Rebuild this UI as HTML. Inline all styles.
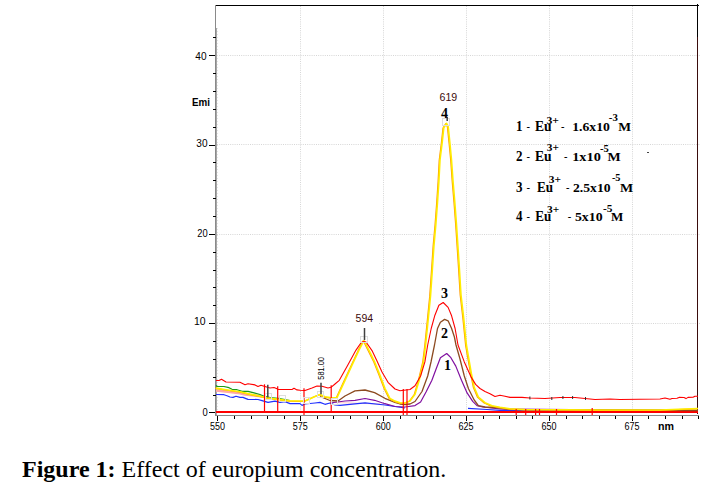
<!DOCTYPE html>
<html><head><meta charset="utf-8"><style>
html,body{margin:0;padding:0;background:#fff;}
body{width:721px;height:497px;overflow:hidden;position:relative;}
svg{position:absolute;left:0;top:0;}
.cap{position:absolute;left:22px;top:454px;font-family:"Liberation Serif",serif;font-size:24px;color:#000;white-space:nowrap;line-height:30px;}
</style></head><body>
<svg width="721" height="497" viewBox="0 0 721 497">
<line x1="217" y1="55.5" x2="700" y2="55.5" stroke="#d6d6d6" stroke-width="1" stroke-dasharray="1,1.2"/>
<line x1="217" y1="144.5" x2="441" y2="144.5" stroke="#d6d6d6" stroke-width="1" stroke-dasharray="1,1.2"/>
<line x1="452" y1="144.5" x2="700" y2="144.5" stroke="#d6d6d6" stroke-width="1" stroke-dasharray="1,1.2"/>
<line x1="217" y1="234.5" x2="433" y2="234.5" stroke="#d6d6d6" stroke-width="1" stroke-dasharray="1,1.2"/>
<line x1="462" y1="234.5" x2="700" y2="234.5" stroke="#d6d6d6" stroke-width="1" stroke-dasharray="1,1.2"/>
<line x1="217" y1="323.5" x2="348" y2="323.5" stroke="#d6d6d6" stroke-width="1" stroke-dasharray="1,1.2"/>
<line x1="379" y1="323.5" x2="426" y2="323.5" stroke="#d6d6d6" stroke-width="1" stroke-dasharray="1,1.2"/>
<line x1="466" y1="323.5" x2="700" y2="323.5" stroke="#d6d6d6" stroke-width="1" stroke-dasharray="1,1.2"/>
<line x1="300.5" y1="6" x2="300.5" y2="411" stroke="#d6d6d6" stroke-width="1" stroke-dasharray="1,1.2"/>
<line x1="383.5" y1="6" x2="383.5" y2="411" stroke="#d6d6d6" stroke-width="1" stroke-dasharray="1,1.2"/>
<line x1="466.5" y1="6" x2="466.5" y2="411" stroke="#d6d6d6" stroke-width="1" stroke-dasharray="1,1.2"/>
<line x1="549.5" y1="6" x2="549.5" y2="411" stroke="#d6d6d6" stroke-width="1" stroke-dasharray="1,1.2"/>
<line x1="632.5" y1="6" x2="632.5" y2="411" stroke="#d6d6d6" stroke-width="1" stroke-dasharray="1,1.2"/>
<rect x="215" y="5" width="484" height="1" fill="#000"/>
<rect x="697" y="4" width="1" height="33" fill="#000"/>
<rect x="697" y="37" width="1" height="377" fill="#3a0c0c"/>
<rect x="215" y="5" width="1" height="410" fill="#8a8a8a"/>
<rect x="216" y="28" width="1" height="387" fill="#a8a8a8"/>
<line x1="217.5" y1="28" x2="217.5" y2="410" stroke="#e4e4e4" stroke-width="1" stroke-dasharray="1,2"/>
<rect x="215" y="415" width="484" height="1" fill="#8a8a8a"/>
<rect x="209" y="412" width="6" height="1" fill="#000"/>
<rect x="213" y="395" width="3" height="1" fill="#000"/>
<rect x="213" y="377" width="3" height="1" fill="#000"/>
<rect x="213" y="359" width="3" height="1" fill="#000"/>
<rect x="213" y="341" width="3" height="1" fill="#000"/>
<rect x="209" y="323" width="6" height="1" fill="#000"/>
<rect x="213" y="305" width="3" height="1" fill="#000"/>
<rect x="213" y="287" width="3" height="1" fill="#000"/>
<rect x="213" y="270" width="3" height="1" fill="#000"/>
<rect x="213" y="252" width="3" height="1" fill="#000"/>
<rect x="209" y="234" width="6" height="1" fill="#000"/>
<rect x="213" y="216" width="3" height="1" fill="#000"/>
<rect x="213" y="198" width="3" height="1" fill="#000"/>
<rect x="213" y="180" width="3" height="1" fill="#000"/>
<rect x="213" y="162" width="3" height="1" fill="#000"/>
<rect x="209" y="145" width="6" height="1" fill="#000"/>
<rect x="213" y="127" width="3" height="1" fill="#000"/>
<rect x="213" y="109" width="3" height="1" fill="#000"/>
<rect x="213" y="91" width="3" height="1" fill="#000"/>
<rect x="213" y="73" width="3" height="1" fill="#000"/>
<rect x="209" y="55" width="6" height="1" fill="#000"/>
<rect x="213" y="37" width="3" height="1" fill="#000"/>
<rect x="217" y="416" width="1" height="5" fill="#000"/>
<rect x="234" y="416" width="1" height="3" fill="#000"/>
<rect x="251" y="416" width="1" height="3" fill="#000"/>
<rect x="267" y="416" width="1" height="3" fill="#000"/>
<rect x="284" y="416" width="1" height="3" fill="#000"/>
<rect x="300" y="416" width="1" height="5" fill="#000"/>
<rect x="317" y="416" width="1" height="3" fill="#000"/>
<rect x="333" y="416" width="1" height="3" fill="#000"/>
<rect x="350" y="416" width="1" height="3" fill="#000"/>
<rect x="367" y="416" width="1" height="3" fill="#000"/>
<rect x="383" y="416" width="1" height="5" fill="#000"/>
<rect x="400" y="416" width="1" height="3" fill="#000"/>
<rect x="416" y="416" width="1" height="3" fill="#000"/>
<rect x="433" y="416" width="1" height="3" fill="#000"/>
<rect x="450" y="416" width="1" height="3" fill="#000"/>
<rect x="466" y="416" width="1" height="5" fill="#000"/>
<rect x="483" y="416" width="1" height="3" fill="#000"/>
<rect x="499" y="416" width="1" height="3" fill="#000"/>
<rect x="516" y="416" width="1" height="3" fill="#000"/>
<rect x="532" y="416" width="1" height="3" fill="#000"/>
<rect x="549" y="416" width="1" height="5" fill="#000"/>
<rect x="566" y="416" width="1" height="3" fill="#000"/>
<rect x="582" y="416" width="1" height="3" fill="#000"/>
<rect x="599" y="416" width="1" height="3" fill="#000"/>
<rect x="615" y="416" width="1" height="3" fill="#000"/>
<rect x="632" y="416" width="1" height="5" fill="#000"/>
<rect x="648" y="416" width="1" height="3" fill="#000"/>
<rect x="665" y="416" width="1" height="3" fill="#000"/>
<rect x="682" y="416" width="1" height="3" fill="#000"/>
<rect x="698" y="416" width="1" height="3" fill="#000"/>
<rect x="216" y="411" width="482" height="2" fill="#ff0000"/>
<rect x="500" y="410" width="198" height="1" fill="#5028b0" opacity="0.6"/>
<polyline points="216.0,390.5 230.0,392.1 240.0,393.3 245.0,394.5 255.0,395.5 262.0,396.5" fill="none" stroke="#ffa8a8" stroke-width="2.5" stroke-linejoin="round" />
<polyline points="335.0,402.5 350.0,403.0 380.0,404.0" fill="none" stroke="#ffc8c8" stroke-width="1" stroke-linejoin="round" />
<polyline points="216.0,385.3 217.0,386.5 224.0,386.5 229.0,387.7 232.0,389.3 237.0,389.7 242.0,391.3 248.0,391.3 254.0,392.9 260.0,394.5 264.0,396.2 270.0,397.5 278.0,398.3 285.0,399.6 290.0,400.5" fill="none" stroke="#1a9a1a" stroke-width="1.2" stroke-linejoin="round" />
<polyline points="216.0,394.5 224.0,394.7 227.0,395.8 230.0,397.0 233.0,397.4 236.0,396.2 240.0,397.4 243.0,397.4 246.0,398.6 248.0,399.4 258.0,399.5 262.0,400.6 268.0,402.4 275.0,401.2 280.0,402.4 285.0,401.6 290.0,403.6 300.0,403.6 302.0,405.4 305.0,404.0 315.0,403.0 320.0,402.4 325.0,404.3 330.0,403.0 335.0,405.0 340.0,405.3 345.0,404.8 365.0,402.8 385.0,405.0 395.0,406.5 405.0,408.0" fill="none" stroke="#2030ff" stroke-width="1.2" stroke-linejoin="round" />
<polyline points="468.0,408.3 487.0,409.5 500.0,410.3 698.0,410.5" fill="none" stroke="#2030ff" stroke-width="1.2" stroke-linejoin="round" />
<polyline points="330.0,403.0 345.0,401.0 355.0,400.3 365.0,398.5 374.6,400.3 384.9,403.7 395.0,406.5 405.0,407.0 415.0,405.6 420.6,402.0 426.3,391.5 431.9,380.2 436.1,369.0 440.4,357.7 446.7,353.5 450.9,357.7 455.8,366.1 461.5,380.2 467.1,392.9 472.7,401.3 477.0,405.6 482.6,407.0 500.0,409.0 698.0,410.5" fill="none" stroke="#8010a0" stroke-width="1.2" stroke-linejoin="round" />
<polyline points="320.0,396.5 330.0,400.5 338.0,401.0 345.0,396.0 355.0,390.8 365.0,390.0 374.6,392.6 384.9,398.3 395.0,402.5 400.0,404.0 405.0,404.5 410.0,404.0 415.0,401.5 422.0,391.5 427.7,376.0 431.0,362.0 434.5,345.0 437.5,328.5 440.4,322.2 444.6,319.4 448.1,320.8 451.6,328.5 454.4,337.0 456.0,345.0 460.0,359.0 464.3,376.0 468.5,388.7 474.2,400.0 478.4,405.6 485.0,407.0 500.0,408.0 510.0,409.5 698.0,410.5" fill="none" stroke="#8c4a20" stroke-width="1.3" stroke-linejoin="round" />
<polyline points="215.2,388.4 225.2,390.0 239.2,392.0 249.2,394.4 259.2,396.5 269.2,398.6 279.2,399.9 289.2,401.1 299.2,401.3 304.2,401.3 309.2,399.1 314.2,396.8 319.2,394.8 324.2,397.1 329.2,397.9 336.2,398.0 344.2,380.6 351.2,365.5 358.2,350.4 363.2,340.8 369.2,352.7 373.8,362.1 378.9,374.9 384.1,388.6 389.2,398.8 394.2,401.4 399.2,403.1 404.2,403.3 409.2,401.3 414.2,394.6 418.4,380.5 422.7,362.2 424.8,345.3 427.6,317.6 429.7,296.4 431.7,267.6 433.1,246.4 435.0,225.3 436.7,202.6 438.1,181.4 439.2,160.3 441.3,143.5 443.0,128.0 445.8,123.6 447.4,126.9 449.1,143.5 450.7,160.3 452.2,181.4 454.0,202.6 455.7,225.3 457.1,246.4 458.5,267.6 460.2,295.3 462.8,317.6 465.6,345.3 470.5,373.5 473.4,387.6 477.6,397.4 484.2,403.0 491.2,406.1 499.2,407.6 509.2,409.1 524.2,409.8 599.2,410.3 659.2,410.3 684.2,409.3 697.2,408.8" fill="none" stroke="#ff9a00" stroke-width="1.2" stroke-linejoin="round" />
<polyline points="216.0,388.1 226.0,389.7 240.0,391.7 250.0,394.1 260.0,396.2 270.0,398.3 280.0,399.6 290.0,400.8 300.0,401.0 305.0,401.0 310.0,398.8 315.0,396.5 320.0,394.5 325.0,396.8 330.0,397.6 337.0,397.7 345.0,380.3 352.0,365.2 359.0,350.1 364.0,340.5 370.0,352.4 374.6,361.8 379.7,374.6 384.9,388.3 390.0,398.5 395.0,401.1 400.0,402.8 405.0,403.0 410.0,401.0 415.0,394.3 419.2,380.2 423.5,361.9 425.6,345.0 428.4,317.3 430.5,296.1 432.5,267.3 433.9,246.1 435.8,225.0 437.5,202.3 438.9,181.1 440.0,160.0 442.1,143.2 443.8,127.7 446.6,123.3 448.2,126.6 449.9,143.2 451.5,160.0 453.0,181.1 454.8,202.3 456.5,225.0 457.9,246.1 459.3,267.3 461.0,295.0 463.6,317.3 466.4,345.0 471.3,373.2 474.2,387.3 478.4,397.1 485.0,402.7 492.0,405.8 500.0,407.3 510.0,408.8 525.0,409.5 600.0,410.0 660.0,410.0 685.0,409.0 698.0,408.5" fill="none" stroke="#ffee00" stroke-width="1.6" stroke-linejoin="round" />
<polyline points="216.0,380.5 219.0,380.5 221.5,379.2 226.0,382.0 240.0,382.3 245.0,384.7 248.0,383.7 255.0,384.9 258.0,386.5 261.0,385.3 264.0,386.3 270.0,388.0 274.0,387.5 277.0,388.7 278.0,389.5 292.0,389.5 294.0,388.3 297.0,389.9 300.0,390.3 305.0,390.5 312.0,388.0 317.0,386.0 322.0,386.2 328.0,388.0 331.0,387.3 335.0,384.0 339.3,380.3 347.7,365.2 356.0,350.1 361.2,342.5 364.0,341.5 366.0,342.0 372.0,350.6 377.0,361.0 382.0,372.0 388.0,382.3 395.0,389.0 400.0,390.7 410.0,389.5 415.0,385.8 420.6,376.0 424.9,361.9 427.7,345.0 431.2,328.5 434.7,315.8 438.9,305.3 443.2,302.5 448.1,307.4 451.6,315.8 455.1,328.5 458.0,345.0 464.3,361.9 471.3,377.4 475.6,384.4 480.0,388.5 485.0,391.5 490.0,393.7 495.0,396.5 500.0,395.2 505.0,396.2 510.0,397.4 522.0,397.4 530.0,398.0 545.0,398.5 560.0,397.5 575.0,397.5 585.0,398.5 595.0,399.5 610.0,399.0 620.0,399.5 660.0,399.0 665.0,398.0 670.0,399.3 672.0,398.5 677.0,398.3 679.0,397.4 684.0,397.5 686.0,398.6 688.0,397.4 693.0,397.3 695.0,396.2 698.0,396.2" fill="none" stroke="#ff0000" stroke-width="1.1" stroke-linejoin="round" />
<rect x="647" y="152" width="2" height="1" fill="#444"/>
<rect x="529.4" y="396.5" width="1" height="3" fill="#303030"/>
<rect x="551.3" y="397.0" width="1" height="3" fill="#303030"/>
<rect x="562.4" y="396.0" width="1" height="3" fill="#303030"/>
<rect x="572.1" y="396.0" width="1" height="3" fill="#303030"/>
<rect x="585.0" y="397.0" width="1" height="3" fill="#303030"/>
<line x1="264.5" y1="384.3" x2="264.5" y2="412" stroke="#ff0000" stroke-width="1.2"/>
<line x1="277.7" y1="386.3" x2="277.7" y2="412" stroke="#ff0000" stroke-width="1.2"/>
<line x1="304" y1="388.3" x2="304" y2="415" stroke="#ff0000" stroke-width="1.2"/>
<line x1="331.2" y1="385.3" x2="331.2" y2="412" stroke="#ff0000" stroke-width="1.2"/>
<line x1="403.3" y1="389" x2="403.3" y2="415" stroke="#ff0000" stroke-width="1.2"/>
<line x1="407" y1="389" x2="407" y2="415" stroke="#ff0000" stroke-width="1.2"/>
<line x1="516.2" y1="409" x2="516.2" y2="415" stroke="#ff0000" stroke-width="1.2"/>
<line x1="525.7" y1="409" x2="525.7" y2="415" stroke="#ff0000" stroke-width="1.2"/>
<line x1="535.6" y1="409" x2="535.6" y2="415" stroke="#ff0000" stroke-width="1.2"/>
<line x1="539.5" y1="409" x2="539.5" y2="415" stroke="#ff0000" stroke-width="1.2"/>
<line x1="556.5" y1="409" x2="556.5" y2="415" stroke="#ff0000" stroke-width="1.2"/>
<line x1="592.2" y1="408" x2="592.2" y2="415" stroke="#ff0000" stroke-width="1.2"/>
<rect x="360.5" y="336.5" width="7" height="6" fill="none" stroke="#dedede" stroke-width="1"/>
<rect x="442.5" y="118.5" width="7" height="7" fill="none" stroke="#dedede" stroke-width="1"/>
<rect x="317.5" y="391.5" width="6" height="6" fill="none" stroke="#dedede" stroke-width="1"/>
<rect x="265.5" y="393.5" width="6" height="6" fill="none" stroke="#dedede" stroke-width="1"/>
<rect x="279.5" y="395.5" width="6" height="6" fill="none" stroke="#dedede" stroke-width="1"/>
<rect x="303.5" y="397.5" width="6" height="6" fill="none" stroke="#dedede" stroke-width="1"/>
<rect x="331.5" y="398.5" width="6" height="6" fill="none" stroke="#dedede" stroke-width="1"/>
<line x1="267.8" y1="384.7" x2="267.8" y2="397.5" stroke="#404040" stroke-width="1.5"/>
<line x1="321" y1="382.7" x2="321" y2="394.3" stroke="#404040" stroke-width="1.5"/>
<line x1="364.5" y1="328" x2="364.5" y2="340" stroke="#404040" stroke-width="1.5"/>
<line x1="447.2" y1="117" x2="447.2" y2="121" stroke="#404040" stroke-width="1.5"/>
<text x="202.5" y="415.8" font-family="Liberation Sans, sans-serif" font-size="10" fill="#000" text-anchor="start" textLength="5.2" lengthAdjust="spacingAndGlyphs" >0</text>
<text x="194.0" y="325.0" font-family="Liberation Sans, sans-serif" font-size="10" fill="#000" text-anchor="start" textLength="11.6" lengthAdjust="spacingAndGlyphs" >10</text>
<text x="197.3" y="237.0" font-family="Liberation Sans, sans-serif" font-size="10" fill="#000" text-anchor="start" textLength="10.4" lengthAdjust="spacingAndGlyphs" >20</text>
<text x="196.3" y="147.0" font-family="Liberation Sans, sans-serif" font-size="10" fill="#000" text-anchor="start" textLength="11.2" lengthAdjust="spacingAndGlyphs" >30</text>
<text x="195.3" y="59.8" font-family="Liberation Sans, sans-serif" font-size="10" fill="#000" text-anchor="start" textLength="11.2" lengthAdjust="spacingAndGlyphs" >40</text>
<text x="192" y="105.6" font-family="Liberation Sans, sans-serif" font-size="11" fill="#000" text-anchor="start" textLength="18" lengthAdjust="spacingAndGlyphs" font-weight="bold">Emi</text>
<text x="209.9" y="429.8" font-family="Liberation Sans, sans-serif" font-size="10" fill="#000" text-anchor="start" textLength="15" lengthAdjust="spacingAndGlyphs" >550</text>
<text x="292.8" y="429.8" font-family="Liberation Sans, sans-serif" font-size="10" fill="#000" text-anchor="start" textLength="15" lengthAdjust="spacingAndGlyphs" >575</text>
<text x="375.7" y="429.8" font-family="Liberation Sans, sans-serif" font-size="10" fill="#000" text-anchor="start" textLength="15" lengthAdjust="spacingAndGlyphs" >600</text>
<text x="458.6" y="429.8" font-family="Liberation Sans, sans-serif" font-size="10" fill="#000" text-anchor="start" textLength="15" lengthAdjust="spacingAndGlyphs" >625</text>
<text x="541.5" y="429.8" font-family="Liberation Sans, sans-serif" font-size="10" fill="#000" text-anchor="start" textLength="15" lengthAdjust="spacingAndGlyphs" >650</text>
<text x="624.4" y="429.8" font-family="Liberation Sans, sans-serif" font-size="10" fill="#000" text-anchor="start" textLength="15" lengthAdjust="spacingAndGlyphs" >675</text>
<text x="658" y="429.8" font-family="Liberation Sans, sans-serif" font-size="11" fill="#000" text-anchor="start" textLength="16" lengthAdjust="spacingAndGlyphs" font-weight="bold">nm</text>
<rect x="348" y="313" width="31" height="11" fill="#fff"/>
<text x="355.6" y="322" font-family="Liberation Sans, sans-serif" font-size="10" fill="#3c0a0a" text-anchor="start" textLength="17.5" lengthAdjust="spacingAndGlyphs" >594</text>
<text x="439.5" y="101" font-family="Liberation Sans, sans-serif" font-size="10" fill="#3c0a0a" text-anchor="start" textLength="17.7" lengthAdjust="spacingAndGlyphs" >619</text>
<text transform="translate(323.6,379.7) rotate(-90)" font-family="Liberation Sans, sans-serif" font-size="9" textLength="22.7" lengthAdjust="spacingAndGlyphs">581.00</text>
<text x="441" y="117.8" font-family="Liberation Serif, serif" font-size="14" fill="#000" text-anchor="start" font-weight="bold">4</text>
<text x="441" y="297.5" font-family="Liberation Serif, serif" font-size="14" fill="#000" text-anchor="start" font-weight="bold">3</text>
<text x="441" y="337.7" font-family="Liberation Serif, serif" font-size="14" fill="#000" text-anchor="start" font-weight="bold">2</text>
<text x="443.9" y="369.6" font-family="Liberation Serif, serif" font-size="14" fill="#000" text-anchor="start" font-weight="bold">1</text>
<text x="516.0" y="131.0" font-family="Liberation Serif, serif" font-size="14" fill="#000" text-anchor="start" textLength="6.5" lengthAdjust="spacingAndGlyphs" font-weight="bold">1</text>
<text x="526.5" y="131.0" font-family="Liberation Serif, serif" font-size="13" fill="#000" text-anchor="start" textLength="3.5" lengthAdjust="spacingAndGlyphs" >-</text>
<text x="535" y="131.0" font-family="Liberation Serif, serif" font-size="14" fill="#000" text-anchor="start" textLength="16.6" lengthAdjust="spacingAndGlyphs" font-weight="bold">Eu</text>
<text x="546.5" y="123.5" font-family="Liberation Serif, serif" font-size="11" fill="#000" text-anchor="start" textLength="12.5" lengthAdjust="spacingAndGlyphs" font-weight="bold">3+</text>
<text x="561" y="131.0" font-family="Liberation Serif, serif" font-size="13" fill="#000" text-anchor="start" textLength="3.5" lengthAdjust="spacingAndGlyphs" >-</text>
<text x="572.2" y="131.0" font-family="Liberation Serif, serif" font-size="13.5" fill="#000" text-anchor="start" textLength="37.69999999999991" lengthAdjust="spacingAndGlyphs" font-weight="bold">1.6x10</text>
<text x="608.8" y="120.8" font-family="Liberation Serif, serif" font-size="11" fill="#000" text-anchor="start" textLength="9.0" lengthAdjust="spacingAndGlyphs" font-weight="bold">-3</text>
<text x="618.2" y="131.0" font-family="Liberation Serif, serif" font-size="13.5" fill="#000" text-anchor="start" textLength="12.799999999999931" lengthAdjust="spacingAndGlyphs" font-weight="bold">M</text>
<text x="516.0" y="161.3" font-family="Liberation Serif, serif" font-size="14" fill="#000" text-anchor="start" textLength="6.5" lengthAdjust="spacingAndGlyphs" font-weight="bold">2</text>
<text x="526.5" y="161.3" font-family="Liberation Serif, serif" font-size="13" fill="#000" text-anchor="start" textLength="3.5" lengthAdjust="spacingAndGlyphs" >-</text>
<text x="535" y="161.3" font-family="Liberation Serif, serif" font-size="14" fill="#000" text-anchor="start" textLength="16.6" lengthAdjust="spacingAndGlyphs" font-weight="bold">Eu</text>
<text x="546.8" y="151.4" font-family="Liberation Serif, serif" font-size="11" fill="#000" text-anchor="start" textLength="12.100000000000023" lengthAdjust="spacingAndGlyphs" font-weight="bold">3+</text>
<text x="564" y="161.3" font-family="Liberation Serif, serif" font-size="13" fill="#000" text-anchor="start" textLength="3.5" lengthAdjust="spacingAndGlyphs" >-</text>
<text x="572.2" y="161.3" font-family="Liberation Serif, serif" font-size="13.5" fill="#000" text-anchor="start" textLength="28.6" lengthAdjust="spacingAndGlyphs" font-weight="bold">1x10</text>
<text x="600" y="151.9" font-family="Liberation Serif, serif" font-size="11" fill="#000" text-anchor="start" textLength="8.799999999999955" lengthAdjust="spacingAndGlyphs" font-weight="bold">-5</text>
<text x="607.4" y="161.3" font-family="Liberation Serif, serif" font-size="13.5" fill="#000" text-anchor="start" textLength="13.200000000000022" lengthAdjust="spacingAndGlyphs" font-weight="bold">M</text>
<text x="516.0" y="191.6" font-family="Liberation Serif, serif" font-size="14" fill="#000" text-anchor="start" textLength="6.5" lengthAdjust="spacingAndGlyphs" font-weight="bold">3</text>
<text x="526.5" y="191.6" font-family="Liberation Serif, serif" font-size="13" fill="#000" text-anchor="start" textLength="3.5" lengthAdjust="spacingAndGlyphs" >-</text>
<text x="537" y="191.6" font-family="Liberation Serif, serif" font-size="14" fill="#000" text-anchor="start" textLength="15.999999999999977" lengthAdjust="spacingAndGlyphs" font-weight="bold">Eu</text>
<text x="548.8" y="182.8" font-family="Liberation Serif, serif" font-size="11" fill="#000" text-anchor="start" textLength="12.200000000000045" lengthAdjust="spacingAndGlyphs" font-weight="bold">3+</text>
<text x="565.9" y="191.6" font-family="Liberation Serif, serif" font-size="13" fill="#000" text-anchor="start" textLength="3.5" lengthAdjust="spacingAndGlyphs" >-</text>
<text x="573" y="191.6" font-family="Liberation Serif, serif" font-size="13.5" fill="#000" text-anchor="start" textLength="37.6" lengthAdjust="spacingAndGlyphs" font-weight="bold">2.5x10</text>
<text x="611.9" y="181.0" font-family="Liberation Serif, serif" font-size="11" fill="#000" text-anchor="start" textLength="8.600000000000023" lengthAdjust="spacingAndGlyphs" font-weight="bold">-5</text>
<text x="620" y="191.6" font-family="Liberation Serif, serif" font-size="13.5" fill="#000" text-anchor="start" textLength="13.200000000000022" lengthAdjust="spacingAndGlyphs" font-weight="bold">M</text>
<text x="516.0" y="221.4" font-family="Liberation Serif, serif" font-size="14" fill="#000" text-anchor="start" textLength="6.5" lengthAdjust="spacingAndGlyphs" font-weight="bold">4</text>
<text x="526.5" y="221.4" font-family="Liberation Serif, serif" font-size="13" fill="#000" text-anchor="start" textLength="3.5" lengthAdjust="spacingAndGlyphs" >-</text>
<text x="535.2" y="221.4" font-family="Liberation Serif, serif" font-size="14" fill="#000" text-anchor="start" textLength="15.999999999999977" lengthAdjust="spacingAndGlyphs" font-weight="bold">Eu</text>
<text x="547" y="212.6" font-family="Liberation Serif, serif" font-size="11" fill="#000" text-anchor="start" textLength="12.200000000000045" lengthAdjust="spacingAndGlyphs" font-weight="bold">3+</text>
<text x="567.7" y="221.4" font-family="Liberation Serif, serif" font-size="13" fill="#000" text-anchor="start" textLength="3.5" lengthAdjust="spacingAndGlyphs" >-</text>
<text x="574.9" y="221.4" font-family="Liberation Serif, serif" font-size="13.5" fill="#000" text-anchor="start" textLength="27.700000000000024" lengthAdjust="spacingAndGlyphs" font-weight="bold">5x10</text>
<text x="602.9" y="211.7" font-family="Liberation Serif, serif" font-size="11" fill="#000" text-anchor="start" textLength="9.5" lengthAdjust="spacingAndGlyphs" font-weight="bold">-5</text>
<text x="611" y="221.4" font-family="Liberation Serif, serif" font-size="13.5" fill="#000" text-anchor="start" textLength="12.300000000000045" lengthAdjust="spacingAndGlyphs" font-weight="bold">M</text>
</svg>
<div class="cap"><b>Figure 1:</b> Effect of europium concentration.</div>
</body></html>
